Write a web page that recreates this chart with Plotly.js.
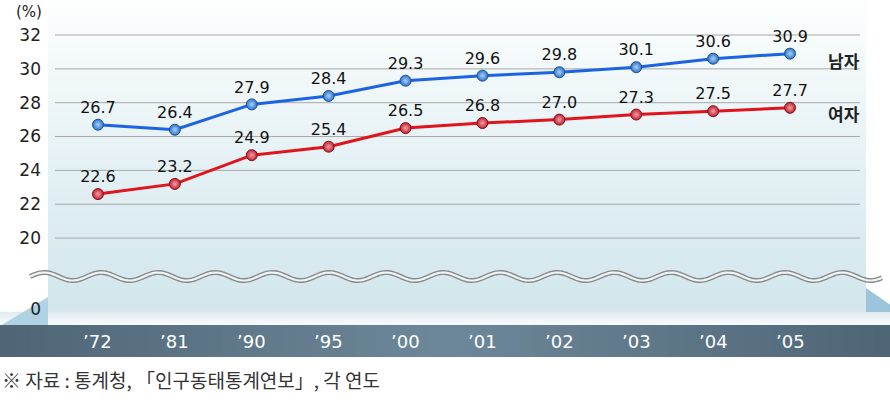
<!DOCTYPE html>
<html>
<head>
<meta charset="utf-8">
<script src="https://cdn.plot.ly/plotly-3.0.1.min.js"></script>
<style>html,body{margin:0;padding:0;background:#fff;}#chart{width:890px;height:402px;}</style>
</head>
<body>
<div id="chart"></div>
<script>
const years = ["’72","’81","’90","’95","’00","’01","’02","’03","’04","’05"];
const male = [26.7,26.4,27.9,28.4,29.3,29.6,29.8,30.1,30.6,30.9];
const female = [22.6,23.2,24.9,25.4,26.5,26.8,27.0,27.3,27.5,27.7];
const yTicks = [20,22,24,26,28,30,32];
const zeroLabel = "0";
const seriesNames = ["남자","여자"];
const unitLabel = "(%)";
const sourceNote = "※ 자료 : 통계청, 「인구동태통계연보」, 각 연도";

// layout geometry (pixels)
const W = 890, H = 402, ML = 48, MR = 24, MT = 0, MB = 45;
const PW = W - ML - MR, PH = H - MT - MB;
const px2x = p => (p - ML) / PW;
const py2y = p => (PH + MT - p) / PH;
const BREAK_VAL = 15.8;

function lerp(a,b,t){return a+(b-a)*t;}
function mix(c1,c2,t){
  return 'rgb('+Math.round(lerp(c1[0],c2[0],t))+','+Math.round(lerp(c1[1],c2[1],t))+','+Math.round(lerp(c1[2],c2[2],t))+')';
}

const shapes = [];
const NB = 40, panelTop = 0, panelBot = 312;
for (let i = 0; i < NB; i++) {
  const y0 = lerp(panelTop, panelBot, i/NB), y1 = lerp(panelTop, panelBot, (i+1)/NB);
  shapes.push({type:'rect', xref:'paper', yref:'paper', x0:0, x1:1, y0:py2y(y1), y1:py2y(y0)+0.002,
    fillcolor: mix([254,255,255],[209,230,236], Math.pow((i+0.5)/NB, 0.9)), line:{width:0}, layer:'below'});
}
const NF = 6;
for (let i = 0; i < NF; i++) {
  const y0 = lerp(312, 325, i/NF), y1 = lerp(312, 325, (i+1)/NF);
  shapes.push({type:'rect', xref:'paper', yref:'paper', x0:px2x(0), x1:px2x(W), y0:py2y(y1), y1:py2y(y0)+0.001,
    fillcolor: mix([224,235,240],[246,249,251], (i+0.5)/NF), line:{width:0}, layer:'below'});
}
shapes.push({type:'path', xref:'paper', yref:'paper',
  path:'M '+px2x(0)+','+py2y(326)+' L '+px2x(48)+','+py2y(297)+' L '+px2x(48)+','+py2y(326)+' Z',
  fillcolor:'#afd2e4', line:{width:0}, layer:'below'});
shapes.push({type:'path', xref:'paper', yref:'paper',
  path:'M '+px2x(866)+','+py2y(288)+' L '+px2x(892)+','+py2y(306)+' L '+px2x(892)+','+py2y(312)+' L '+px2x(866)+','+py2y(312)+' Z',
  fillcolor:'#9cc5dc', line:{width:0}, layer:'below'});
const ND = 60;
for (let i = 0; i < ND; i++) {
  const x0 = lerp(0, W, i/ND), x1 = lerp(0, W, (i+1)/ND);
  const t = (i+0.5)/ND;
  const k = Math.max(0, 1 - Math.abs(t - 0.5)/0.5);
  shapes.push({type:'rect', xref:'paper', yref:'paper', x0:px2x(x0), x1:px2x(x1)+0.001, y0:py2y(357), y1:py2y(325),
    fillcolor: mix([78,101,118],[108,136,154], k), line:{width:0}, layer:'below'});
}
yTicks.forEach(v => {
  shapes.push({type:'line', xref:'paper', yref:'y', x0:px2x(55), x1:px2x(860), y0:v, y1:v,
    line:{color:'#a8a8a8', width:1}, layer:'below'});
});
function wavePath(cy){
  let d = '';
  for (let p = 30; p <= 882; p += 2) {
    const yy = cy + 4*Math.sin((p - 30) / 57 * 2*Math.PI + Math.PI);
    d += (d ? ' L ' : 'M ') + px2x(p).toFixed(5) + ',' + py2y(yy).toFixed(5);
  }
  return d;
}
shapes.push({type:'path', xref:'paper', yref:'paper', path:wavePath(276.5), line:{color:'#8a8a8a', width:5}, layer:'below'});
shapes.push({type:'path', xref:'paper', yref:'paper', path:wavePath(276.5), line:{color:'#eef5f7', width:2.2}, layer:'below'});

const xs = years.map((_, i) => i);
const textFont = {family:'DejaVu Sans, Arial, sans-serif', size:16, color:'#111'};

const traces = [
  {x: xs, y: male, type:'scatter', mode:'lines+markers+text', text: male.map(v=>v.toFixed(1)),
   textposition:'top center', textfont:textFont, cliponaxis:false,
   line:{color:'#1c63e4', width:3},
   marker:{size:11, color:'#2d74cc', line:{color:'#1b4f98', width:1}, gradient:{type:'radial', color:'#a9d2f5'}},
   hoverinfo:'skip', showlegend:false},
  {x: xs, y: female, type:'scatter', mode:'lines+markers+text', text: female.map(v=>v.toFixed(1)),
   textposition:'top center', textfont:textFont, cliponaxis:false,
   line:{color:'#e0141c', width:3},
   marker:{size:11, color:'#c2202e', line:{color:'#851018', width:1}, gradient:{type:'radial', color:'#f3a1a8'}},
   hoverinfo:'skip', showlegend:false}
];

const annotations = [];
years.forEach((lab, i) => {
  annotations.push({x:i, xref:'x', y:py2y(341), yref:'paper', text:lab, showarrow:false,
    font:{family:'DejaVu Sans, Arial, sans-serif', size:18, color:'#ffffff'}, xanchor:'center', yanchor:'middle'});
});
annotations.push({x:px2x(844), xref:'paper', y:male[male.length-1], yref:'y', yshift:-7, text:seriesNames[0], showarrow:false,
  font:{family:'Noto Sans CJK KR, sans-serif', size:17, color:'#222', weight:'bold'}, xanchor:'center', yanchor:'middle'});
annotations.push({x:px2x(844), xref:'paper', y:female[female.length-1], yref:'y', yshift:-6, text:seriesNames[1], showarrow:false,
  font:{family:'Noto Sans CJK KR, sans-serif', size:17, color:'#222', weight:'bold'}, xanchor:'center', yanchor:'middle'});
annotations.push({x:px2x(29), xref:'paper', y:py2y(12), yref:'paper', text:unitLabel, showarrow:false,
  font:{family:'DejaVu Sans, Arial, sans-serif', size:15, color:'#222'}, xanchor:'center', yanchor:'middle'});
annotations.push({x:px2x(0), xref:'paper', y:py2y(379), yref:'paper', text:sourceNote, showarrow:false,
  font:{family:'Noto Sans CJK KR, sans-serif', size:19, color:'#333'}, xanchor:'left', yanchor:'middle'});

const layout = {
  width: W, height: H,
  margin:{l:ML, r:MR, t:MT, b:MB, pad:0},
  paper_bgcolor:'#ffffff', plot_bgcolor:'rgba(0,0,0,0)',
  showlegend:false,
  xaxis:{range:[-0.65, 9.988], showgrid:false, zeroline:false, showticklabels:false, ticks:'', showline:false, fixedrange:true},
  yaxis:{range:[12.97, 34.07], tickvals: yTicks.concat([BREAK_VAL]), ticktext: yTicks.map(String).concat([zeroLabel]),
    showgrid:false, zeroline:false, ticks:'', showline:false, ticklabelstandoff:6,
    tickfont:{family:'DejaVu Sans, Arial, sans-serif', size:17, color:'#222'}, fixedrange:true},
  shapes: shapes,
  annotations: annotations
};

Plotly.newPlot('chart', traces, layout, {displayModeBar:false, staticPlot:true});
</script>
</body>
</html>
